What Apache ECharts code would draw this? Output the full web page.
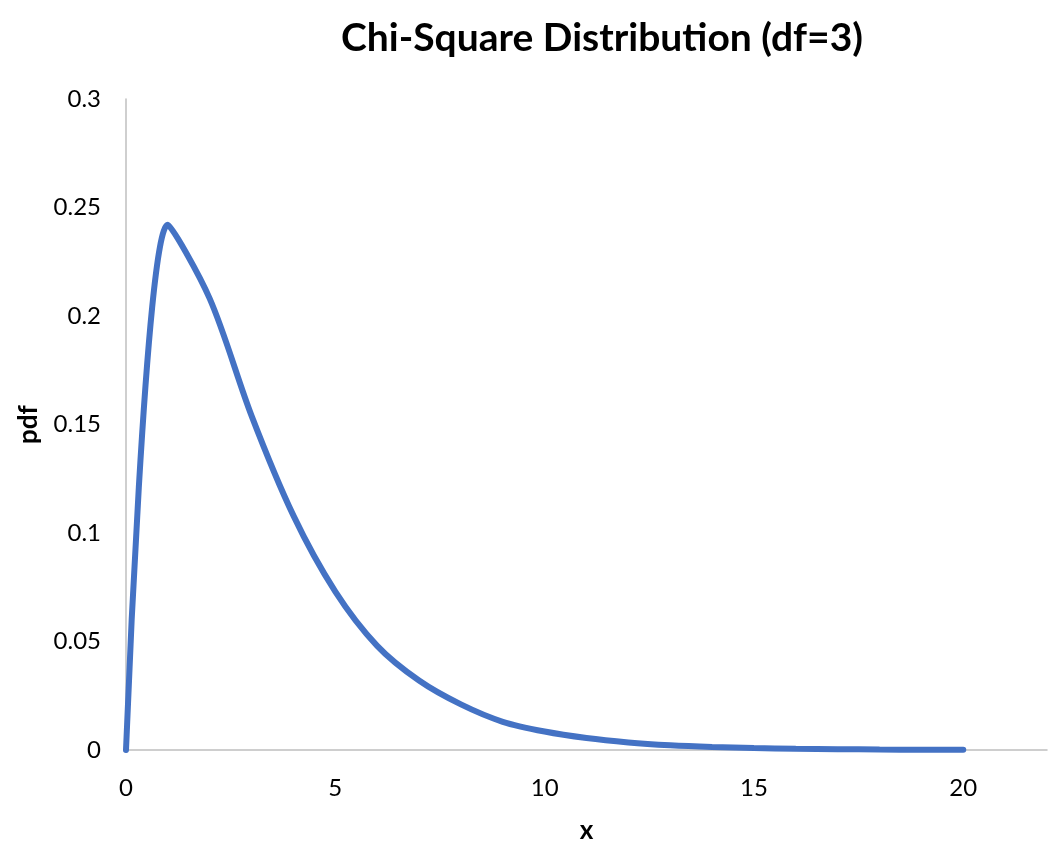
<!DOCTYPE html>
<html>
<head>
<meta charset="utf-8">
<script src="https://cdn.jsdelivr.net/npm/echarts@6/dist/echarts.min.js"></script>
<style>
  html, body { margin: 0; padding: 0; background: #fff; }
  #chart { width: 1050px; height: 868px; }
</style>
</head>
<body>
<div id="chart"></div>
<script>
// x values and pdf values
const xs = [0, 1, 2, 3, 4, 5, 6, 7, 8, 9, 10, 11, 12, 13, 14, 15, 16, 17, 18, 19, 20];
const pdf = [0, 0.242, 0.208, 0.154, 0.108, 0.073, 0.048, 0.032, 0.021, 0.013, 0.0085,
  0.0055, 0.0035, 0.0022, 0.0014, 0.0009, 0.0006, 0.0004, 0.0002, 0.00015, 0.0001];
const yTicks = [0, 0.05, 0.1, 0.15, 0.2, 0.25, 0.3];

const chart = echarts.init(document.getElementById('chart'));

const points = [];
for (let i = 0; i < xs.length; i++) {
  points.push([xs[i], pdf[i]]);
}

const fontFam = 'Lato, "Open Sans", sans-serif';

const option = {
  backgroundColor: '#fff',
  animation: false,
  title: {
    text: 'Chi-Square Distribution (df=3)',
    left: 597,
    textAlign: 'center',
    top: 14,
    textStyle: { fontFamily: fontFam, fontSize: 39, fontWeight: 'bold', color: '#000' }
  },
  grid: { left: 126, right: 3, top: 99, bottom: 118 },
  xAxis: {
    type: 'value',
    min: 0,
    max: 22,
    interval: 5,
    name: 'x',
    nameLocation: 'middle',
    nameGap: 68,
    nameTextStyle: { fontFamily: fontFam, fontSize: 26, fontWeight: 'bold', color: '#000' },
    axisLine: { show: true, lineStyle: { color: '#bfbfbf', width: 1.5 } },
    axisTick: { show: false },
    splitLine: { show: false },
    axisLabel: {
      fontFamily: fontFam, fontSize: 24, color: '#000', margin: 26,
      showMaxLabel: false
    }
  },
  yAxis: {
    type: 'value',
    min: 0,
    max: yTicks[yTicks.length - 1],
    interval: 0.05,
    name: 'pdf',
    nameLocation: 'middle',
    nameGap: 84,
    nameRotate: 90,
    nameTextStyle: { fontFamily: fontFam, fontSize: 26, fontWeight: 'bold', color: '#000' },
    axisLine: { show: true, lineStyle: { color: '#bfbfbf', width: 1.5 } },
    axisTick: { show: false },
    splitLine: { show: false },
    axisLabel: {
      fontFamily: fontFam, fontSize: 24, color: '#000', margin: 25,
      formatter: function (v) { return String(Math.round(v * 100) / 100); }
    }
  },
  series: [{
    type: 'line',
    data: points,
    smooth: 0.3,
    symbol: 'none',
    lineStyle: { color: '#4472C4', width: 6, cap: 'round' }
  }]
};

chart.setOption(option);
</script>
</body>
</html>
